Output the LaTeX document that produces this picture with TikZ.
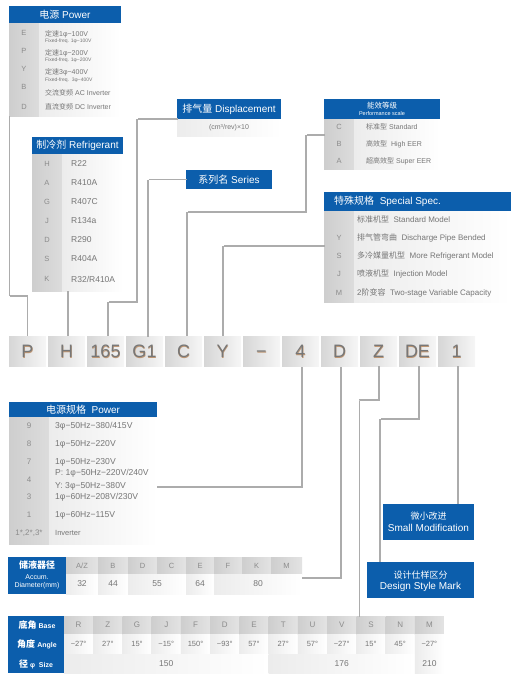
\documentclass[tikz,border=0pt]{standalone}
\usepackage{fontspec}
\setmainfont{Liberation Sans}
\newfontfamily\cjk{Noto Sans CJK SC}
\definecolor{hblue}{RGB}{12,94,172}
\definecolor{colg}{RGB}{206,206,206}
\definecolor{colg2}{RGB}{220,220,220}
\definecolor{txg}{RGB}{118,118,118}
\definecolor{lettg}{RGB}{140,140,140}
\definecolor{bodyl}{RGB}{236,236,236}
\definecolor{lineg}{RGB}{172,172,172}
\definecolor{cbl}{RGB}{214,214,214}
\definecolor{cbr}{RGB}{246,246,246}
\definecolor{shad}{RGB}{190,150,115}
\newcommand\bxnode[6]{\node[#6,anchor=north west,inner sep=0pt,outer sep=0pt,minimum width={(#4)-(#2)},minimum height={(#5)-(#3)}] (#1) at (#2,#3) {};}
\tikzset{
 conn/.style={draw=lineg, line width=1.3pt, dash pattern=on 0.5pt off 0.5pt},
 hdr/.style={fill=hblue},
 gcol/.style={left color=colg, right color=colg2},
 gbody/.style={left color=bodyl, right color=white},
 hcell/.style={left color=colg, right color=colg2!80!white},
 vcell/.style={left color=bodyl, right color=white},
 codebox/.style={left color=cbl, right color=cbr},
 codet/.style={text=lettg!85!black, inner sep=0pt, anchor=base, font=\fontsize{18}{20}\selectfont},
 codes/.style={text=shad, inner sep=0pt, anchor=base, font=\fontsize{18}{20}\selectfont},
 ht/.style={text=white, inner sep=0pt, font=\fontsize{10}{12}\selectfont},
 wt/.style={text=white, inner sep=0pt},
 lt/.style={text=lettg, inner sep=0pt, font=\fontsize{7.5}{8}\selectfont},
 bt/.style={text=txg, inner sep=0pt, anchor=west, font=\fontsize{7}{8}\selectfont},
 st/.style={text=txg, inner sep=0pt, anchor=west, font=\fontsize{5}{6}\selectfont},
 ct/.style={text=txg, inner sep=0pt, font=\fontsize{7.5}{8}\selectfont},
}
\begin{document}
\begin{tikzpicture}[x=1pt,y=-1pt]
\useasboundingbox (0,0) rectangle (523,685);

% ---------- connector bend points ----------
\coordinate (k1) at (27.5,296);
\coordinate (k2) at (68,291);
\coordinate (k3a) at (137,119);
\coordinate (k3) at (108,302);
\coordinate (k4) at (148,179.5);
\coordinate (k5) at (306,212);
\coordinate (k6) at (187,212);
\coordinate (k7) at (223,246);
\coordinate (k8) at (302,487);
\coordinate (k9) at (341,578);
\coordinate (k10) at (379,400);
\coordinate (k11) at (359.5,400);
\coordinate (k12) at (419,419);
\coordinate (k13) at (380,419);
\coordinate (k14) at (458,420);

% ---------- code row ----------
\foreach \t [count=\i from 0] in {P,H,165,G1,C,Y,−,4,D,Z,DE,1}{
  \pgfmathsetmacro\xx{9+39*\i}
  \bxnode{c\i}{\xx}{336}{\xx+37}{366}{codebox}
  \node[codes] (cs\i) at (\xx+18.9,358.1) {\t};
  \node[codet] (ct\i) at (\xx+18.5,357.7) {\t};
}

% ---------- Power (top) ----------
\bxnode{pwh}{9}{6}{121}{24}{hdr}
\node[ht] (pwht) at (pwh) {{\cjk 电源} Power};
\bxnode{pwc}{9}{24}{39}{116}{gcol}
\bxnode{pwb}{39}{24}{121}{116}{gbody}
\foreach \l/\y [count=\i] in {E/33,P/51,Y/69,B/87,D/107}
  \node[lt] (pwl\i) at (24,\y) {\l};
\node[bt] (pwt1) at (45,34) {{\cjk 定速}1φ−100V};
\node[st] (pws1) at (45,41.5) {Fixed-freq. 1φ−100V};
\node[bt] (pwt2) at (45,53) {{\cjk 定速}1φ−200V};
\node[st] (pws2) at (45,60.5) {Fixed-freq. 1φ−200V};
\node[bt] (pwt3) at (45,72) {{\cjk 定速}3φ−400V};
\node[st] (pws3) at (45,80) {Fixed-freq.\ \ 3φ−400V};
\node[bt] (pwt4) at (45,93) {{\cjk 交流变频} AC Inverter};
\node[bt] (pwt5) at (45,107) {{\cjk 直流变频} DC Inverter};

% ---------- Refrigerant ----------
\bxnode{rfh}{32}{137}{123}{154}{hdr}
\node[ht] (rfht) at (rfh) {{\cjk 制冷剂} Refrigerant};
\bxnode{rfc}{32}{154}{62}{291}{gcol}
\bxnode{rfb}{62}{154}{123}{291}{gbody}
\foreach \l/\v/\y [count=\i] in {H/R22/164,A/R410A/183,G/R407C/202,J/R134a/221,D/R290/240,S/R404A/259,K/{R32/R410A}/279}{
  \node[lt] (rfl\i) at (47,\y) {\l};
  \node[bt,font=\fontsize{8.5}{9}\selectfont] (rfv\i) at (71,\y) {\v};
}

% ---------- Displacement ----------
\bxnode{dph}{177}{99}{281}{119}{hdr}
\node[ht] (dpht) at (dph) {{\cjk 排气量} Displacement};
\bxnode{dpb}{177}{119}{281}{136}{gbody}
\node[ct,font=\fontsize{7}{8}\selectfont] (dpbt) at (dpb) {(cm³/rev)×10};

% ---------- Series ----------
\bxnode{srh}{186}{170}{272}{189}{hdr}
\node[ht] (srht) at (srh) {{\cjk 系列名} Series};

% ---------- Performance scale ----------
\bxnode{pfh}{324}{99}{440}{119}{hdr}
\node[wt,font=\fontsize{7.5}{8}\selectfont\cjk] (pfht1) at (382,105.5) {能效等级};
\node[wt,font=\fontsize{5.5}{6}\selectfont] (pfht2) at (382,114) {Performance scale};
\bxnode{pfc}{324}{119}{354}{169}{gcol}
\bxnode{pfb}{354}{119}{440}{169}{gbody}
\node[lt] (pfl1) at (339,127) {C};
\node[lt] (pfl2) at (339,144) {B};
\node[lt] (pfl3) at (339,161) {A};
\node[bt] (pft1) at (366,127) {{\cjk 标准型} Standard};
\node[bt] (pft2) at (366,144) {{\cjk 高效型}\ \ High EER};
\node[bt] (pft3) at (366,161) {{\cjk 超高效型} Super EER};

% ---------- Special spec ----------
\bxnode{sph}{324}{192}{511}{211}{hdr}
\node[ht,anchor=west] (spht) at (334,201.5) {{\cjk 特殊规格}\ \ Special Spec.};
\bxnode{spc}{324}{211}{354}{302}{gcol}
\bxnode{spb}{354}{211}{511}{302}{gbody}
\node[lt] (spl2) at (339,238) {Y};
\node[lt] (spl3) at (339,256) {S};
\node[lt] (spl4) at (339,274) {J};
\node[lt] (spl5) at (339,293) {M};
\tikzset{sbt/.style={bt,font=\fontsize{8}{9}\selectfont}}
\node[sbt] (spt1) at (357,219) {{\cjk 标准机型}\ \ Standard Model};
\node[sbt] (spt2) at (357,238) {{\cjk 排气管弯曲}\ \ Discharge Pipe Bended};
\node[sbt] (spt3) at (357,256) {{\cjk 多冷媒量机型}\ \ More Refrigerant Model};
\node[sbt] (spt4) at (357,274) {{\cjk 喷液机型}\ \ Injection Model};
\node[sbt] (spt5) at (357,293) {2{\cjk 阶变容}\ \ Two-stage Variable Capacity};

% ---------- Power (bottom) ----------
\bxnode{p2h}{9}{402}{157}{417}{hdr}
\node[ht] (p2ht) at (p2h) {{\cjk 电源规格}\ \ Power};
\bxnode{p2c}{9}{417}{49}{544}{gcol}
\bxnode{p2b}{49}{417}{157}{544}{gbody}
\foreach \l/\y [count=\i] in {9/426,8/444,7/462,4/480,3/497,1/515}
  \node[lt,font=\fontsize{8}{9}\selectfont] (p2l\i) at (29,\y) {\l};
\node[lt,font=\fontsize{8}{9}\selectfont] (p2l7) at (29,533) {1*,2*,3*};
\tikzset{pbt/.style={bt,font=\fontsize{8.6}{9}\selectfont}}
\node[pbt] (p2t1) at (55,426) {3φ−50Hz−380/415V};
\node[pbt] (p2t2) at (55,444) {1φ−50Hz−220V};
\node[pbt] (p2t3) at (55,462) {1φ−50Hz−230V};
\node[pbt] (p2t4) at (55,473.5) {P: 1φ−50Hz−220V/240V};
\node[pbt] (p2t5) at (55,486) {Y: 3φ−50Hz−380V};
\node[pbt] (p2t6) at (55,497) {1φ−60Hz−208V/230V};
\node[pbt] (p2t7) at (55,515) {1φ−60Hz−115V};
\node[bt,font=\fontsize{7.5}{8}\selectfont] (p2t8) at (55,533) {Inverter};

% ---------- Accumulator ----------
\bxnode{acb}{8}{557}{66}{594}{hdr}
\node[wt,font=\cjk\bfseries\fontsize{9}{10}\selectfont] (acbt1) at (37,565.5) {储液器径};
\node[wt,font=\fontsize{7}{8}\selectfont] (acbt2) at (37,577.5) {Accum.};
\node[wt,font=\fontsize{7}{8}\selectfont] (acbt3) at (37,585.5) {Diameter(mm)};
\foreach \a/\b/\l [count=\i] in {66/98/{A/Z},98/128/B,128/157/D,157/186/C,186/214/E,214/242/F,242/271/K,271/302/M}{
  \bxnode{ach\i}{\a}{557}{\b}{574}{hcell}
  \node[lt] (achl\i) at (ach\i) {\l};
}
\foreach \a/\b/\v [count=\i] in {66/98/32,98/128/44,128/186/55,186/214/64,214/302/80}{
  \bxnode{acv\i}{\a}{574}{\b}{594}{vcell}
  \node[ct,font=\fontsize{8.5}{9}\selectfont] (acvt\i) at (acv\i) {\v};
}

% ---------- Base table ----------
\bxnode{bsb}{8}{616}{64}{673}{hdr}
\node[wt] (bst1) at (37,625) {\cjk\bfseries\fontsize{9}{10}\selectfont 底角 \normalfont\fontsize{7}{8}\selectfont\bfseries Base};
\node[wt] (bst2) at (37,644.5) {\cjk\bfseries\fontsize{9}{10}\selectfont 角度 \normalfont\fontsize{7}{8}\selectfont\bfseries Angle};
\node[wt] (bst3) at (36,664) {\cjk\bfseries\fontsize{9}{10}\selectfont 径 \normalfont\fontsize{7}{8}\selectfont\bfseries φ\ \ Size};
\foreach \l/\a [count=\i from 0] in {R/−27°,Z/27°,G/15°,J/−15°,F/150°,D/−93°,E/57°,T/27°,U/57°,V/−27°,S/15°,N/45°,M/−27°}{
  \pgfmathsetmacro\bxx{64+29.23*\i}
  \bxnode{bh\i}{\bxx}{616}{\bxx+29.23}{634}{hcell}
  \node[lt,font=\fontsize{8}{9}\selectfont] (bhl\i) at (bh\i) {\l};
  \bxnode{ba\i}{\bxx}{634}{\bxx+29.23}{654}{vcell}
  \node[ct] (bal\i) at (ba\i) {\a};
}
\bxnode{bz1}{64}{654}{268.6}{673}{vcell}
\node[ct,font=\fontsize{8.5}{9}\selectfont] (bzt1) at (bz1) {150};
\bxnode{bz2}{268.6}{654}{414.8}{673}{vcell}
\node[ct,font=\fontsize{8.5}{9}\selectfont] (bzt2) at (bz2) {176};
\bxnode{bz3}{414.8}{654}{444}{673}{vcell}
\node[ct,font=\fontsize{8.5}{9}\selectfont] (bzt3) at (bz3) {210};

% ---------- Small modification / Design style ----------
\bxnode{smb}{383}{504}{474}{540}{hdr}
\node[wt,font=\cjk\fontsize{9}{10}\selectfont] (smt1) at (428.5,516) {微小改进};
\node[wt,font=\fontsize{10}{11}\selectfont] (smt2) at (428.5,528) {Small Modification};
\bxnode{dsb}{367}{562}{474}{598}{hdr}
\node[wt,font=\cjk\fontsize{9}{10}\selectfont] (dst1) at (420.5,575) {设计仕样区分};
\node[wt,font=\fontsize{10}{11}\selectfont] (dst2) at (420.5,587) {Design Style Mark};

% ---------- connector paths ----------
\draw[conn] ([xshift=0.7pt]pwc.south west) |- (k1) -- (k1 |- c0.north);
\draw[conn] (k2 |- rfc.south) -- (k2 |- c1.north);
\draw[conn] (dph.south west) -- (k3a) |- (k3) -- (k3 |- c2.north);
\draw[conn] (srh.west) -- (k4) -- (k4 |- c3.north);
\draw[conn] ([yshift=-16pt]pfh.south west) -| (k5) -- (k6) -- (k6 |- c4.north);
\draw[conn] ([yshift=-35pt]sph.south west) -- (k7) -- (k7 |- c5.north);
\draw[conn] (k8 -| p2b.east) -- (k8) -- (k8 |- c7.south);
\draw[conn] (k9 -| acv5.east) -- (k9) -- (k9 |- c8.south);
\draw[conn] (k10 |- c9.south) -- (k10) -- (k11) -- (k11 |- bh10.north);
\draw[conn] (k12 |- c10.south) -- (k12) -- (k13) -- (k13 |- dsb.north);
\draw[conn] (k14 |- c11.south) -- (k14 |- smb.north);
\end{tikzpicture}
\end{document}
